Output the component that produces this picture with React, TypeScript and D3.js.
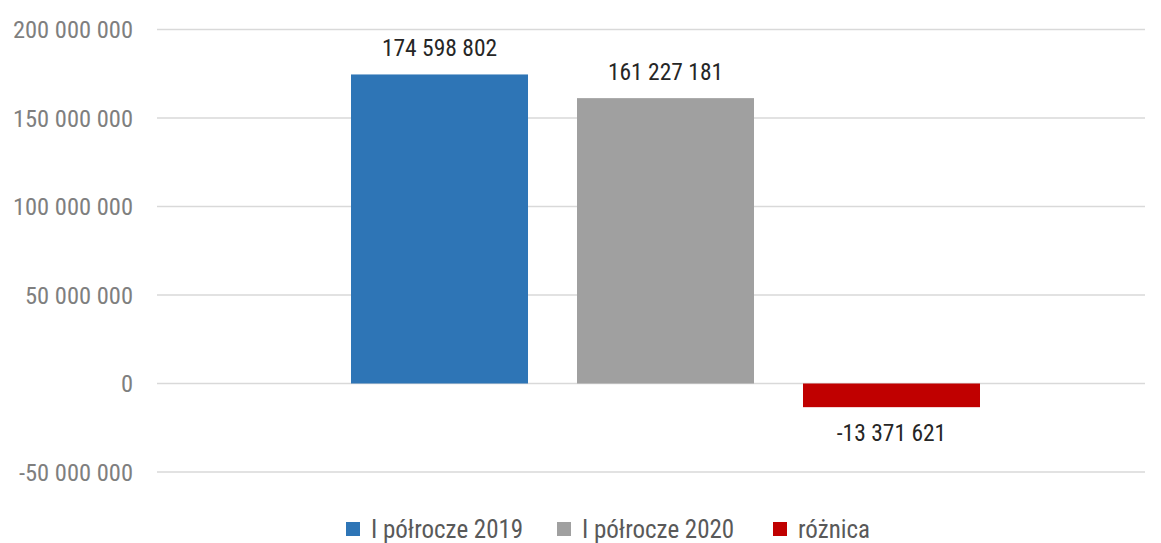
import React from "react";
import * as d3 from "d3";

const series = ["I półrocze 2019", "I półrocze 2020", "różnica"];
const values = [174598802, 161227181, -13371621];
const colors = ["#2E75B6", "#A0A0A0", "#C00000"];
const yTicks = [-50000000, 0, 50000000, 100000000, 150000000, 200000000];

const W = 1161;
const H = 543;
const FONT = "'Liberation Sans Narrow', 'Roboto Condensed', 'Arial Narrow', sans-serif";

const fmt = (v: number) => {
  const s = Math.abs(v).toString().replace(/\B(?=(\d{3})+(?!\d))/g, " ");
  return (v < 0 ? "-" : "") + s;
};

export default function App() {
  const y = d3.scaleLinear().domain([-50000000, 200000000]).range([472, 29.5]);
  const x = d3.scaleBand<string>().domain(series).range([351, 980]).paddingInner(0.2168).paddingOuter(0);
  const legendX = [346, 557, 773];
  return (
    <svg width={W} height={H} style={{ position: "absolute", left: 0, top: 0 }}>
      <rect width={W} height={H} fill="#fff" />
      {yTicks.map((t) => (
        <g key={t}>
          <line x1={157} x2={1145} y1={y(t)} y2={y(t)} stroke="#d9d9d9" strokeWidth={1.5} />
          <text x={133} y={y(t)} dy="0.35em" textAnchor="end" fontFamily={FONT} fontSize={24.5} fill="#7f7f7f">
            {fmt(t)}
          </text>
        </g>
      ))}
      {series.map((s, i) => {
        const v = values[i];
        const y0 = y(Math.max(0, v));
        const y1 = y(Math.min(0, v));
        return (
          <g key={s}>
            <rect x={x(s)} y={y0} width={x.bandwidth()} height={y1 - y0} fill={colors[i]} />
            <text
              x={(x(s) as number) + x.bandwidth() / 2}
              y={v >= 0 ? y0 - 18 : y1 + 34}
              textAnchor="middle"
              fontFamily={FONT}
              fontSize={23.5}
              fill="#262626"
            >
              {fmt(v)}
            </text>
          </g>
        );
      })}
      {series.map((s, i) => (
        <g key={"lg" + s}>
          <rect x={legendX[i]} y={522} width={14} height={14} fill={colors[i]} />
          <text x={legendX[i] + 25} y={529} dy="0.35em" fontFamily={FONT} fontSize={25} fill="#595959">
            {s}
          </text>
        </g>
      ))}
    </svg>
  );
}
